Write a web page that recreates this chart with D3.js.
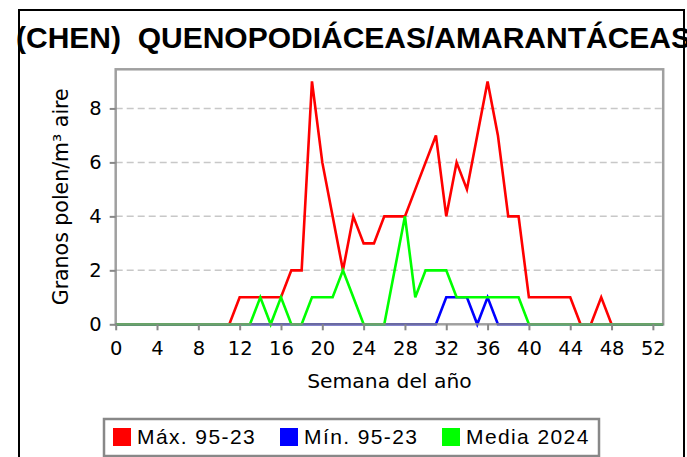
<!DOCTYPE html>
<html>
<head>
<meta charset="utf-8">
<script src="https://cdn.jsdelivr.net/npm/d3@7"></script>
<style>
  body { margin: 0; background: #fff; }
  svg { display: block; }
</style>
</head>
<body>
<svg id="chart" width="687" height="457"></svg>
<script>
// weeks 0..53
let weeks = d3.range(0, 54);

let maxVals = [0,0,0,0,0,0,0,0,0,0,0,0,1,1,1,1,1,2,2,9,6,4,2,4,3,3,4,4,4,5,6,7,4,6,5,7,9,7,4,4,1,1,1,1,1,0,0,1,0,0,0,0,0,0];
let minVals = [0,0,0,0,0,0,0,0,0,0,0,0,0,0,0,0,0,0,0,0,0,0,0,0,0,0,0,0,0,0,0,0,1,1,1,0,1,0,0,0,0,0,0,0,0,0,0,0,0,0,0,0,0,0];
let mediaVals = [0,0,0,0,0,0,0,0,0,0,0,0,0,0,1,0,1,0,0,1,1,1,2,1,0,0,0,2,4,1,2,2,2,1,1,1,1,1,1,1,0,0,0,0,0,0,0,0,0,0,0,0,0,0];

let seriesNames = ['Máx. 95-23', 'Mín. 95-23', 'Media 2024'];
let seriesColors = ['#ff0000', '#0000ff', '#00ff00'];
let xTicks = [0,4,8,12,16,20,24,28,32,36,40,44,48,52];
let yTicks = [0,2,4,6,8];

let svg = d3.select('#chart');

let plot = {left: 115.7, right: 663.2, top: 69.3, bottom: 324.3};

let x = d3.scaleLinear().domain([0, 53]).range([plot.left, plot.right]);
let y = d3.scaleLinear().domain([0, 9.45]).range([plot.bottom, plot.top]);

// title (wider than the frame, as in the original)
svg.append('text')
	.attr('x', 16)
	.attr('y', 48)
	.style('white-space', 'pre')
	.style('font-family', '"Liberation Sans", Arial, sans-serif')
	.style('font-weight', 'bold')
	.style('font-size', '30px')
	.text('(CHEN)  QUENOPODIÁCEAS/AMARANTÁCEAS');

// outer frame
svg.append('rect')
	.attr('x', 19).attr('y', 10)
	.attr('width', 665).attr('height', 520)
	.attr('fill', 'none')
	.attr('stroke', '#000')
	.attr('stroke-width', 2);

// grid
svg.append('g')
	.selectAll('line')
	.data(yTicks.filter(d => d > 0))
	.enter().append('line')
	.attr('x1', plot.left).attr('x2', plot.right)
	.attr('y1', d => y(d)).attr('y2', d => y(d))
	.attr('stroke', '#c8c8c8')
	.attr('stroke-width', 1.5)
	.attr('stroke-dasharray', '7,4');

// lines
let data = [maxVals, minVals, mediaVals];
let line = d3.line()
	.x((d, i) => x(weeks[i]))
	.y(d => y(d));

svg.append('g')
	.selectAll('path')
	.data(data)
	.enter().append('path')
	.attr('d', d => line(d))
	.attr('fill', 'none')
	.attr('stroke', (d, i) => seriesColors[i])
	.attr('stroke-width', 2.6)
	.attr('stroke-linejoin', 'miter');

// plot border
svg.append('rect')
	.attr('x', plot.left).attr('y', plot.top)
	.attr('width', plot.right - plot.left)
	.attr('height', plot.bottom - plot.top)
	.attr('fill', 'none')
	.attr('stroke', '#888')
	.attr('stroke-opacity', 0.8)
	.attr('stroke-width', 2.5);

// axes
let xAxis = svg.append('g')
	.attr('transform', 'translate(0,' + plot.bottom + ')')
	.call(d3.axisBottom(x).tickValues(xTicks).tickSize(6).tickPadding(11));
let yAxis = svg.append('g')
	.attr('transform', 'translate(' + plot.left + ',0)')
	.call(d3.axisLeft(y).tickValues(yTicks).tickSize(6).tickPadding(8));

[xAxis, yAxis].forEach(a => {
	a.select('.domain').remove();
	a.selectAll('.tick line').attr('stroke', '#888').attr('stroke-width', 2);
	a.selectAll('.tick text')
		.attr('fill', '#000')
		.style('font-family', '"DejaVu Sans", sans-serif')
		.style('font-size', '19.5px');
});

// axis titles
svg.append('text')
	.attr('x', (plot.left + plot.right) / 2)
	.attr('y', 388)
	.style('text-anchor', 'middle')
	.style('font-family', '"DejaVu Sans", sans-serif')
	.style('font-size', '20.3px')
	.text('Semana del año');

svg.append('text')
	.attr('transform', 'translate(68,' + ((plot.top + plot.bottom) / 2) + ') rotate(-90)')
	.style('text-anchor', 'middle')
	.style('font-family', '"DejaVu Sans", sans-serif')
	.style('font-size', '20.5px')
	.text('Granos polen/m³ aire');

// legend
let legend = svg.append('g');
legend.append('rect')
	.attr('x', 104).attr('y', 419)
	.attr('width', 495).attr('height', 37)
	.attr('fill', '#fff')
	.attr('stroke', '#888')
	.attr('stroke-width', 2.5);

let legendX = [113, 280, 442];
let item = legend.selectAll('.item')
	.data(seriesNames)
	.enter().append('g')
	.attr('class', 'item')
	.attr('transform', (d, i) => 'translate(' + legendX[i] + ',428)');
item.append('rect')
	.attr('width', 18).attr('height', 18)
	.attr('fill', (d, i) => seriesColors[i]);
item.append('text')
	.attr('x', 24)
	.attr('y', 16)
	.style('font-family', '"Liberation Sans", Arial, sans-serif')
	.style('font-size', '21px')
	.style('letter-spacing', '1.4px')
	.text(d => d);
</script>
</body>
</html>
